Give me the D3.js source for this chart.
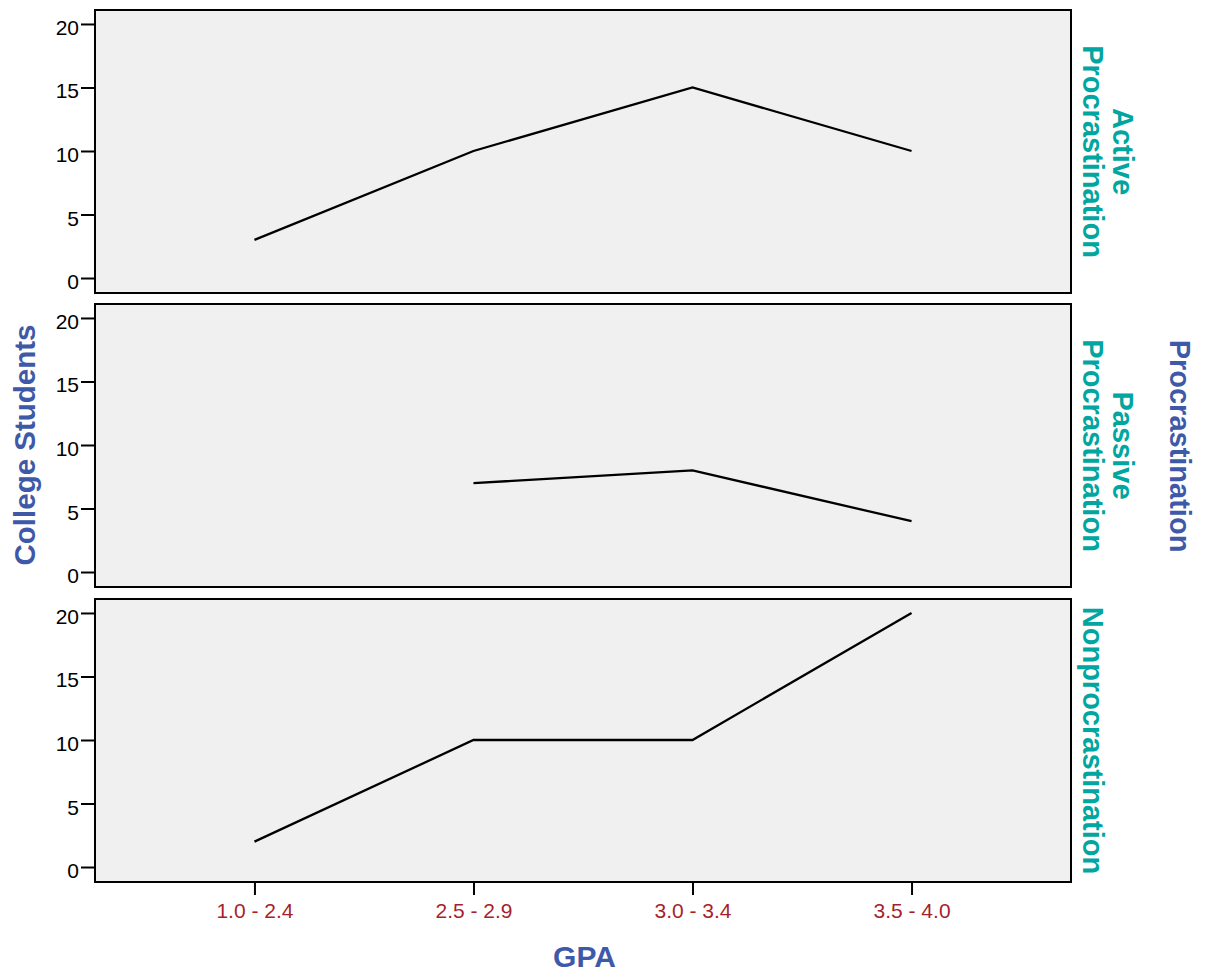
<!DOCTYPE html>
<html>
<head>
<meta charset="utf-8">
<script src="https://cdn.jsdelivr.net/npm/d3@7"></script>
<style>
  html, body { margin: 0; padding: 0; background: #fff; }
  svg { display: block; font-family: "Liberation Sans", Arial, Helvetica, sans-serif; }
</style>
</head>
<body>
<svg id="chart" width="1214" height="975"></svg>
<script>
// ---- data ----
const categories = ["1.0 - 2.4", "2.5 - 2.9", "3.0 - 3.4", "3.5 - 4.0"];
const panelNames = [["Active", "Procrastination"], ["Passive", "Procrastination"], ["Nonprocrastination"]];
const activeValues = [3, 10, 15, 10];
const passiveValues = [null, 7, 8, 4];
const nonprocValues = [2, 10, 10, 20];
const seriesValues = [activeValues, passiveValues, nonprocValues];
const yTicks = [0, 5, 10, 15, 20];
const xTitle = "GPA";
const yTitle = "College Students";
const panelGroupTitle = "Procrastination";

// ---- layout ----
const svg = d3.select("#chart");
const left = 95, right = 1071;
const panelH = 283;
const panelTops = [10, 304, 599];
const teal = "#00a69f", blue = "#3f59a9", red = "#a81f2b";

const x = d3.scalePoint().domain(categories).range([left, right]).padding(0.728);

panelTops.forEach((top, i) => {
  const y = d3.scaleLinear().domain([-1.18, 21.1]).range([top + panelH, top]);
  const g = svg.append("g");

  g.append("rect")
    .attr("x", left).attr("y", top)
    .attr("width", right - left).attr("height", panelH)
    .attr("fill", "#f0f0f0").attr("stroke", "#000").attr("stroke-width", 2);

  // y axis
  const ya = g.append("g").attr("transform", `translate(${left},0)`)
    .call(d3.axisLeft(y).tickValues(yTicks).tickSize(14).tickPadding(2).tickFormat(d3.format("d")));
  ya.select(".domain").remove();
  ya.selectAll(".tick line").attr("stroke", "#000").attr("stroke-width", 2);
  ya.selectAll(".tick text")
    .attr("font-size", "21px").attr("fill", "#000")
    .attr("font-family", "'Liberation Sans', Arial, sans-serif")
    .attr("dy", "0.5em");

  // line
  const line = d3.line()
    .defined(d => d != null)
    .x((d, j) => x(categories[j]))
    .y(d => y(d));
  g.append("path")
    .datum(seriesValues[i])
    .attr("d", line)
    .attr("fill", "none").attr("stroke", "#000").attr("stroke-width", 2.3);

  // strip label (rotated 90)
  const cy = top + panelH / 2;
  const lines = panelNames[i];
  const t = g.append("text")
    .attr("transform", `translate(${1083},${cy}) rotate(90)`)
    .attr("text-anchor", "middle")
    .attr("font-size", "29px").attr("font-weight", "bold").attr("fill", teal);
  lines.forEach((s, k) => {
    t.append("tspan").attr("x", 0).attr("y", -(lines.length - 1 - k) * 30).text(s);
  });

  // bottom axis only for last panel
  if (i === panelTops.length - 1) {
    const xa = g.append("g").attr("transform", `translate(0,${top + panelH})`)
      .call(d3.axisBottom(x).tickSize(13).tickPadding(8));
    xa.select(".domain").remove();
    xa.selectAll(".tick line").attr("stroke", "#000").attr("stroke-width", 2);
    xa.selectAll(".tick text")
      .attr("font-size", "21px").attr("fill", red)
      .attr("font-family", "'Liberation Sans', Arial, sans-serif");
  }
});

// outer titles
svg.append("text")
  .attr("x", 584.5).attr("y", 967)
  .attr("text-anchor", "middle")
  .attr("font-size", "30px").attr("font-weight", "bold").attr("fill", blue)
  .text(xTitle);

svg.append("text")
  .attr("transform", `translate(35,445) rotate(-90)`)
  .attr("text-anchor", "middle")
  .attr("font-size", "29.5px").attr("font-weight", "bold").attr("fill", blue)
  .text(yTitle);

svg.append("text")
  .attr("transform", `translate(1170,446) rotate(90)`)
  .attr("text-anchor", "middle")
  .attr("font-size", "29px").attr("font-weight", "bold").attr("fill", blue)
  .text(panelGroupTitle);
</script>
</body>
</html>
